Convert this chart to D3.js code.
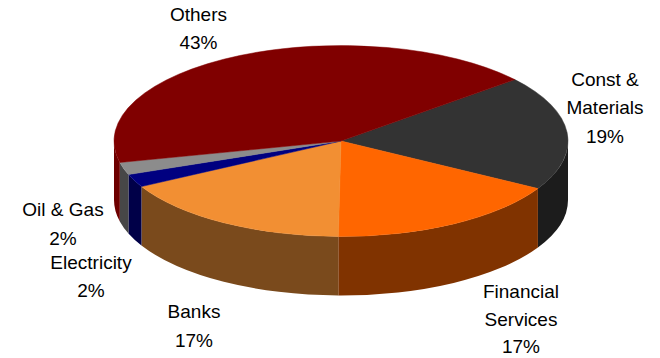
<!DOCTYPE html>
<html>
<head>
<meta charset="utf-8">
<script src="https://cdn.jsdelivr.net/npm/d3@7"></script>
<style>
  body { margin: 0; background: #fff; }
  svg { display: block; }
  text { font-family: "Liberation Sans", Arial, sans-serif; font-size: 19px; fill: #000; }
</style>
</head>
<body>
<svg width="660" height="358"></svg>
<script>
var svg = d3.select('svg')

// data, in drawing order (clockwise from the Others / Const boundary)
var categories = ["Const &\nMaterials", "Financial\nServices", "Banks", "Electricity", "Oil & Gas", "Others"]
var shares = [19.4, 16.9, 16.9, 2.2, 2.1, 42.5]

// [top colour, side colour]
var colors = [
	["#333333", "#1c1c1c"],
	["#ff6600", "#803300"],
	["#f28f33", "#7a4a1c"],
	["#000080", "#000048"],
	["#8c8c8c", "#474747"],
	["#800000", "#6e0000"]
]

// where each label sits: centre x, first baseline, line spacing
var labelPos = [
	{x: 605, y: 86, dy: 28.4},
	{x: 521, y: 298, dy: 27.6},
	{x: 194, y: 318, dy: 29},
	{x: 91, y: 269, dy: 27.7},
	{x: 63, y: 215.7, dy: 29.3},
	{x: 198.5, y: 21, dy: 28.3}
]

var cx = 341, cy = 141, rx = 227, ry = 95.5, depth = 59
var start = 50 * Math.PI / 180

var pie = d3.pie().sort(null).value(function(d) { return d })
	.startAngle(start).endAngle(start + 2 * Math.PI)
var arcs = pie(shares)

function px(a) { return cx + rx * Math.sin(a) }
function py(a) { return cy - ry * Math.cos(a) }

// side walls: only the front half (pie angle between 90 and 270 deg) shows
var walls = []
arcs.forEach(function(d, i) {
	[0, 2 * Math.PI].forEach(function(off) {
		var lo = Math.PI / 2 + off, hi = 3 * Math.PI / 2 + off
		var b0 = Math.max(d.startAngle, lo), b1 = Math.min(d.endAngle, hi)
		if (b1 > b0) walls.push({i: i, b0: b0, b1: b1})
	})
})

svg.append('g').selectAll('path')
	.data(walls)
	.enter()
	.append('path')
	.attr('fill', function(d) { return colors[d.i][1] })
	.attr('d', function(d) {
		return 'M' + px(d.b0) + ',' + py(d.b0) +
			'A' + rx + ',' + ry + ' 0 0 1 ' + px(d.b1) + ',' + py(d.b1) +
			'L' + px(d.b1) + ',' + (py(d.b1) + depth) +
			'A' + rx + ',' + ry + ' 0 0 0 ' + px(d.b0) + ',' + (py(d.b0) + depth) + 'Z'
	})

// top faces
svg.append('g').selectAll('path')
	.data(arcs)
	.enter()
	.append('path')
	.attr('fill', function(d, i) { return colors[i][0] })
	.attr('stroke', function(d, i) { return colors[i][0] })
	.attr('stroke-width', 0.5)
	.attr('d', function(d) {
		var large = d.endAngle - d.startAngle > Math.PI ? 1 : 0
		return 'M' + cx + ',' + cy +
			'L' + px(d.startAngle) + ',' + py(d.startAngle) +
			'A' + rx + ',' + ry + ' 0 ' + large + ' 1 ' + px(d.endAngle) + ',' + py(d.endAngle) + 'Z'
	})

// labels
var label = svg.append('g').selectAll('text')
	.data(arcs)
	.enter()
	.append('text')
	.attr('text-anchor', 'middle')

label.each(function(d, i) {
	var lines = categories[i].split('\n').concat([Math.round(d.data) + '%'])
	var p = labelPos[i]
	d3.select(this).selectAll('tspan')
		.data(lines)
		.enter()
		.append('tspan')
		.attr('x', p.x)
		.attr('y', function(t, k) { return p.y + k * p.dy })
		.text(function(t) { return t })
})
</script>
</body>
</html>
